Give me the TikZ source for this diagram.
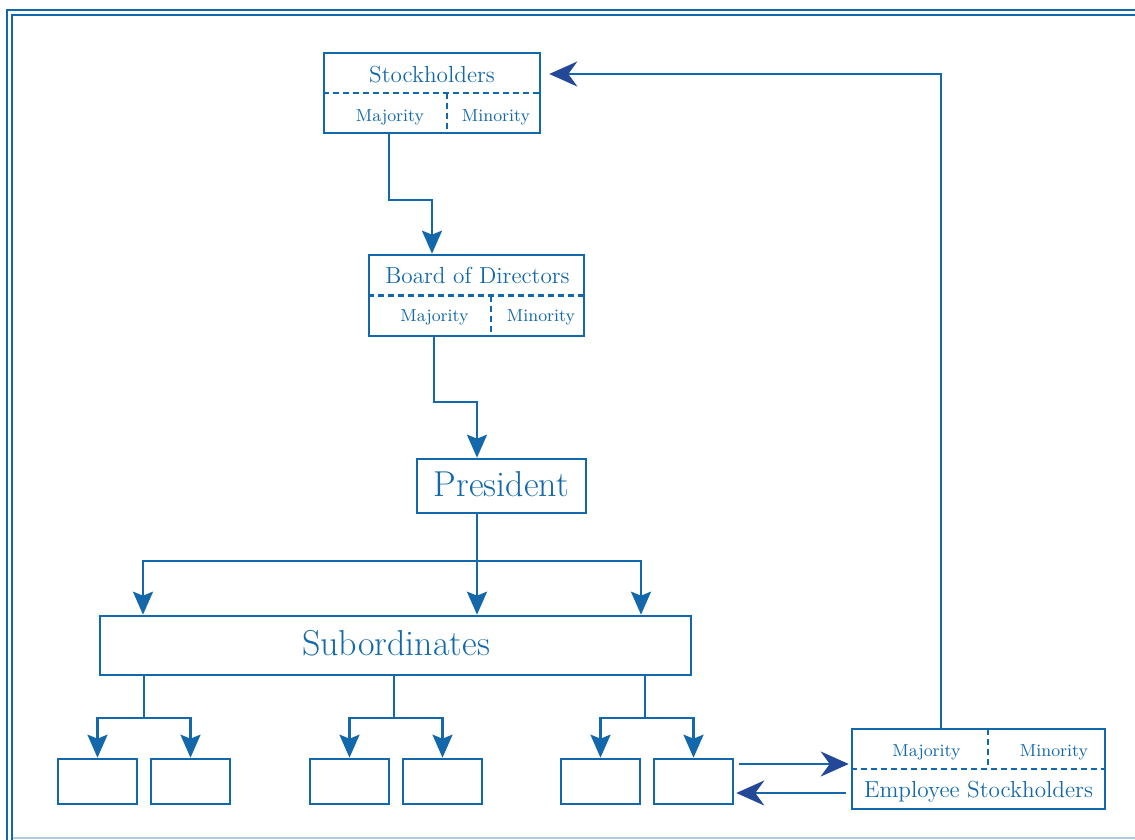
\documentclass[tikz,border=0pt]{standalone}
\usepackage{fontspec}
\usetikzlibrary{arrows.meta}
\definecolor{modra}{RGB}{18,104,170}
\definecolor{temna}{RGB}{36,72,152}
\definecolor{svetla}{RGB}{176,202,222}
\tikzset{
  rob/.style={draw=modra, line width=1.2pt},
  skatla/.style 2 args={draw=modra, line width=1.3pt, minimum width=#1, minimum height=#2, inner sep=0pt},
  crtkano/.style={draw=modra, line width=1.1pt, dash pattern=on 3pt off 2pt},
  crta/.style={draw=modra, line width=1.3pt},
  puscica/.style={crta, -{Stealth[length=11.5pt, width=10pt, inset=2pt]}},
  temnapuscica/.style={crta, -{Stealth[length=14pt, width=12.5pt, inset=4.5pt, color=temna]}},
  malo/.style={text=modra, font=\fontsize{8.7}{10}\selectfont, anchor=base},
  srednje/.style={text=modra, font=\fontsize{11.6}{13}\selectfont, anchor=base},
  veliko/.style={text=modra, font=\fontsize{18}{21}\selectfont, anchor=base}
}
\begin{document}
\begin{tikzpicture}[x=0.5pt, y=-0.5pt]
  \useasboundingbox (0,0) rectangle (1135,840);
  \clip (0,0) rectangle (1135,840);
  % okvir
  \draw [rob] (7,845) -- (7,10) -- (1140,10);
  \draw [rob] (12,845) -- (12,15) -- (1140,15);
  \draw [rob, draw=svetla] (13,838) -- (1140,838);
  % skatle
  \node [skatla={108pt}{40pt}] (stock) at (432,93) {};
  \node [skatla={107.5pt}{40.5pt}] (board) at (476.5,295.5) {};
  \node [skatla={84.5pt}{27pt}] (pres) at (501.5,486) {};
  \node [skatla={295.5pt}{29.5pt}] (sub) at (395.5,645.5) {};
  \node [skatla={126.5pt}{40pt}] (emp) at (978.5,769) {};
  \node [skatla={39.5pt}{22.5pt}] (m1) at (97.5,781.5) {};
  \node [skatla={39.5pt}{22.5pt}] (m2) at (190.5,781.5) {};
  \node [skatla={39.5pt}{22.5pt}] (m3) at (349.5,781.5) {};
  \node [skatla={39.5pt}{22.5pt}] (m4) at (442.5,781.5) {};
  \node [skatla={39.5pt}{22.5pt}] (m5) at (600.5,781.5) {};
  \node [skatla={39.5pt}{22.5pt}] (m6) at (693.5,781.5) {};
  % delitve
  \draw [crtkano] (stock.west) -- (stock.east);
  \draw [crtkano] (447,93) -- (447,133);
  \draw [crtkano] (board.west) -- (board.east);
  \draw [crtkano] (491,296) -- (491,336);
  \draw [crtkano] (emp.west) -- (emp.east);
  \draw [crtkano] (988,729) -- (988,769);
  % koordinate
  \coordinate (S1) at (389,200);
  \coordinate (S2) at (432,200);
  \coordinate (D1) at (434,402);
  \coordinate (D2) at (477,402);
  \coordinate (P) at (477,561);
  \coordinate (PL) at (143,561);
  \coordinate (PR) at (641,561);
  \coordinate (G1) at (144,718);
  \coordinate (G2) at (394,718);
  \coordinate (G3) at (645,718);
  \coordinate (K) at (941,74);
  \coordinate (U) at (0,764);
  \coordinate (L) at (0,793);
  % puscice
  \draw [puscica] (stock.south -| S1) -- (S1) -- (S2) -- (board.north -| S2);
  \draw [puscica] (board.south -| D1) -- (D1) -- (D2) -- (pres.north -| D2);
  \draw [puscica] (pres.south -| P) -- (sub.north -| P);
  \draw [puscica] (P) -| (sub.north -| PL);
  \draw [puscica] (P) -| (sub.north -| PR);
  \draw [crta] (sub.south -| G1) -- (G1);
  \draw [crta] (sub.south -| G2) -- (G2);
  \draw [crta] (sub.south -| G3) -- (G3);
  \draw [puscica] (G1) -| (m1.north);
  \draw [puscica] (G1) -| (m2.north);
  \draw [puscica] (G2) -| (m3.north);
  \draw [puscica] (G2) -| (m4.north);
  \draw [puscica] (G3) -| (m5.north);
  \draw [puscica] (G3) -| (m6.north);
  \draw [temnapuscica, shorten >=4pt] (emp.north -| K) -- (K) -- (stock.east |- K);
  \draw [temnapuscica, shorten <=2.5pt, shorten >=1pt] (m6.east |- U) -- (emp.west |- U);
  \draw [temnapuscica, shorten <=2.5pt, shorten >=1pt] (emp.west |- L) -- (m6.east |- L);
  % oznake
  \node [srednje] (t1) at (432,83) {Stockholders};
  \node [malo] (t2) at (390,121) {Majority};
  \node [malo] (t3) at (496,121) {Minority};
  \node [srednje] (t4) at (477.5,283.5) {Board of Directors};
  \node [malo] (t5) at (434.5,321.5) {Majority};
  \node [malo] (t6) at (541,321.5) {Minority};
  \node [veliko] (t7) at (501.5,496) {President};
  \node [veliko] (t8) at (396,655.5) {Subordinates};
  \node [malo] (t9) at (926.5,756) {Majority};
  \node [malo] (t10) at (1054,756) {Minority};
  \node [srednje] (t11) at (978.5,797.5) {Employee Stockholders};
\end{tikzpicture}
\end{document}
